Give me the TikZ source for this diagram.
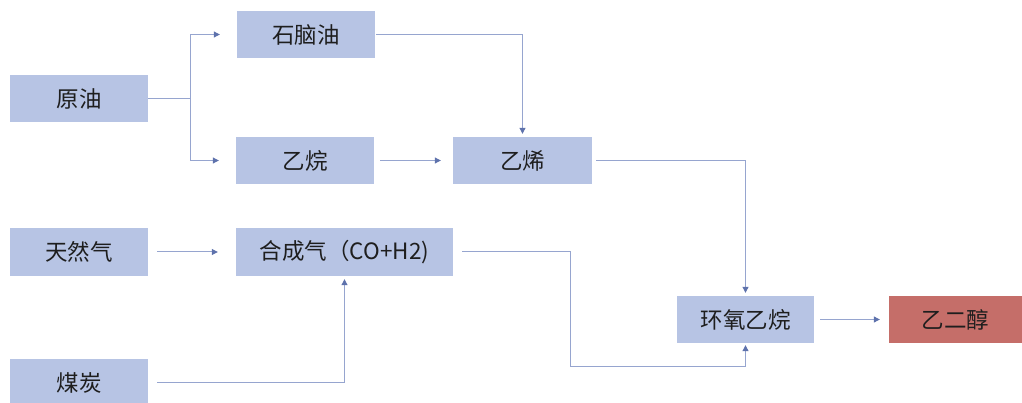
\documentclass[tikz,border=0pt]{standalone}
\usepackage{fontspec}
\newfontfamily\cjk{Noto Sans CJK SC}
\usetikzlibrary{arrows.meta}
\definecolor{boxblue}{HTML}{B7C4E4}
\definecolor{boxred}{HTML}{C56E69}
\definecolor{linecol}{HTML}{96A5CF}
\definecolor{tipcol}{HTML}{5E72AC}
\definecolor{txt}{HTML}{1E1E1E}
\tikzset{
  box/.style={fill=boxblue, draw=none, inner sep=0pt, minimum height=47pt, minimum width=138pt,
    text=txt, font=\cjk\fontsize{22.5}{22.5}\selectfont},
  redbox/.style={box, fill=boxred},
  conn/.style={draw=linecol, line width=1pt},
  arr/.style={conn, -{Triangle[length=6pt,width=6pt,fill=tipcol,color=tipcol]}},
}
\begin{document}
\begin{tikzpicture}[x=1pt,y=-1pt]
\useasboundingbox (0,0) rectangle (1022,403);
\begin{scope}
\clip (0,0) rectangle (1022,403);
\node[box] (yy) at (79,98.5) {原油};
\node[box] (szy) at (306,34.5) {石脑油};
\node[box] (yw) at (305,160.5) {乙烷};
\node[box, minimum width=139pt] (yx) at (522.5,160.5) {乙烯};
\node[box, minimum height=48pt] (trq) at (79,252) {天然气};
\node[box, minimum width=217pt, minimum height=48pt] (hcq) at (344.5,252) {合成气（CO+H2)\hspace{6pt}};
\node[box] (mt) at (79,382.5) {煤炭};
\node[box, minimum width=137pt] (hy) at (745.5,319.5) {环氧乙烷};
\node[redbox, minimum width=133pt] (yec) at (955.5,319.5) {乙二醇};
\end{scope}
\coordinate (br) at (190,98.5);
\coordinate (j) at (570,366);
\draw[conn] (yy.east) -- (br);
\draw[arr, shorten >=17pt] (br) |- (szy.west);
\draw[arr, shorten >=17pt] (br) |- (yw.west);
\draw[arr, shorten <=6pt, shorten >=12pt] (yw.east) -- (yx.west);
\draw[arr, shorten <=1pt, shorten >=3pt] (szy.east) -| (yx.north);
\draw[arr, shorten <=4pt, shorten >=3pt] (yx.east) -| (hy.north);
\draw[arr, shorten <=9pt, shorten >=18pt] (trq.east) -- (hcq.west);
\draw[arr, shorten <=9pt, shorten >=3pt] (mt.east) -| (hcq.south);
\draw[arr, shorten <=9pt, shorten >=2pt] (hcq.east) -| (j) -| (hy.south);
\draw[arr, shorten <=6pt, shorten >=9pt] (hy.east) -- (yec.west);
\end{tikzpicture}
\end{document}
